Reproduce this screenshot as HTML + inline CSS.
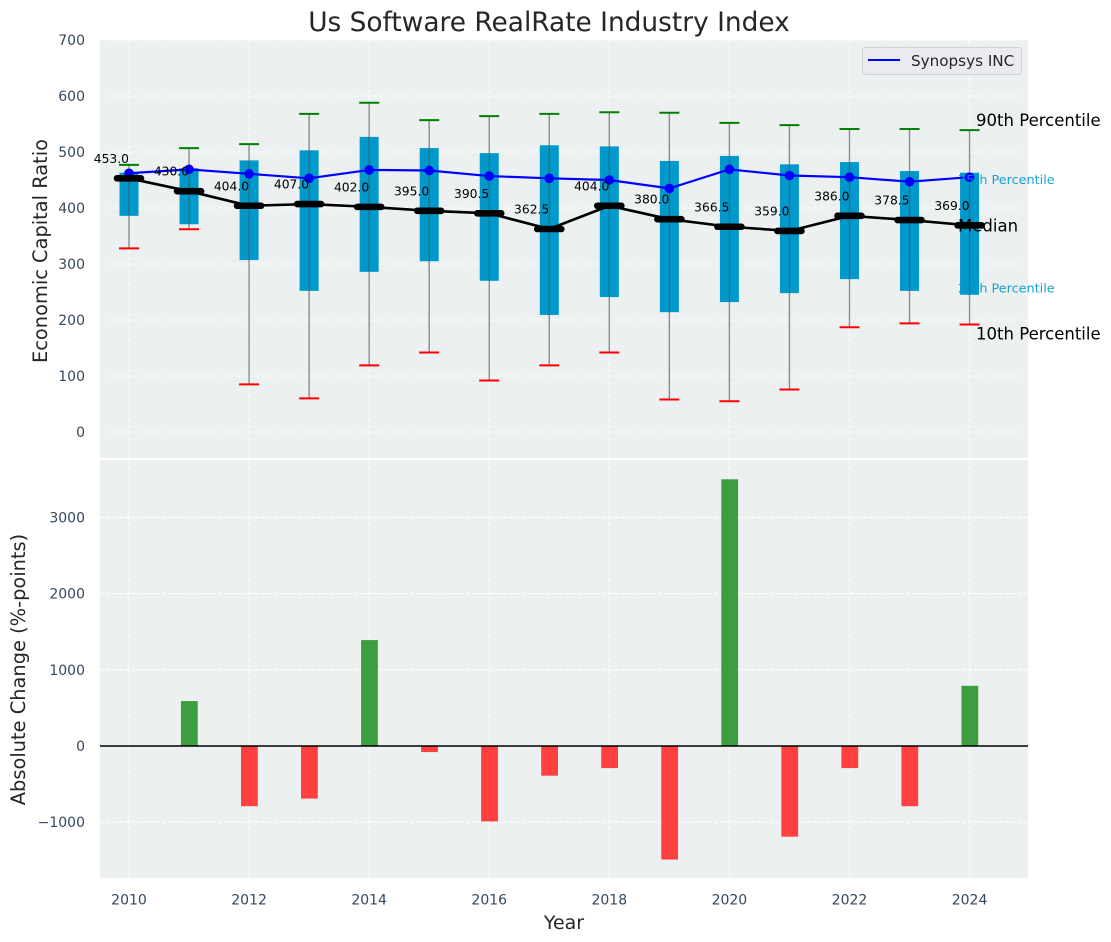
<!DOCTYPE html>
<html>
<head>
<meta charset="utf-8">
<title>Us Software RealRate Industry Index</title>
<style>
html,body{margin:0;padding:0;background:#fff;}
svg{display:block;font-family:"DejaVu Sans","Liberation Sans",sans-serif;}
</style>
</head>
<body>
<svg id="chart" width="1111" height="942" viewBox="0 0 1111 942" xmlns="http://www.w3.org/2000/svg">
  <rect x="100" y="40" width="928" height="418" fill="#ecf0f1"/>
  <rect x="100" y="460" width="928" height="418" fill="#ecf0f1"/>
  <g id="grid"></g>
  <g id="ticks"></g>
  <g id="marks-bottom"></g>
  <g id="marks-top"></g>
  <text x="549" y="31" text-anchor="middle" font-size="26.4" fill="#262626">Us Software RealRate Industry Index</text>
  <text transform="translate(47,251) rotate(-90)" text-anchor="middle" font-size="19.4" fill="#262626">Economic Capital Ratio</text>
  <text transform="translate(25,669.5) rotate(-90)" text-anchor="middle" font-size="19.4" fill="#262626">Absolute Change (%-points)</text>
  <text x="564" y="929" text-anchor="middle" font-size="19" fill="#262626">Year</text>
  <g>
    <rect x="862.5" y="47.5" width="159" height="27" rx="3" fill="#e9ebf0" stroke="#d0d2d6" stroke-width="1"/>
    <line x1="868" y1="60" x2="900" y2="60" stroke="#0000ff" stroke-width="2"/>
    <text x="911" y="66" font-size="15.2" fill="#262626">Synopsys INC</text>
  </g>
</svg>
<script>
const years = [2010,2011,2012,2013,2014,2015,2016,2017,2018,2019,2020,2021,2022,2023,2024];
const p90 = [477,507,514,568,588,557,564,568,571,570,552,548,541,541,539];
const p75 = [463,471,485,503,527,507,498,512,510,484,493,478,482,466,463];
const median = [453,430,404,407,402,395,390.5,362.5,404,380,366.5,359,386,378.5,369];
const p25 = [386,371,307,252,286,305,270,209,241,214,232,248,273,252,245];
const p10 = [328,362,85,60,119,142,92,119,142,58,55,76,187,194,192];
const synopsys = [462,469,461,453,468,467,457,453,450,435,469,458,455,447,455];
const changeYears = [2011,2012,2013,2014,2015,2016,2017,2018,2019,2020,2021,2022,2023,2024];
const changes = [590,-790,-690,1390,-80,-990,-390,-290,-1490,3500,-1190,-290,-790,790];
const xTicks = [2010,2012,2014,2016,2018,2020,2022,2024];
const yTicksTop = [0,100,200,300,400,500,600,700];
const yTicksBottom = [-1000,0,1000,2000,3000];

const NS = 'http://www.w3.org/2000/svg';
const x = v => 129 + (v - 2010) * 60.04;
const yTop = v => 432 - v * 0.56;
const yBot = v => 746 - v * 0.0762;
const fmt = v => v.toFixed(1);
const gridG = document.getElementById('grid');
const tickG = document.getElementById('ticks');
const topG = document.getElementById('marks-top');
const botG = document.getElementById('marks-bottom');

function mk(parent, tag, attrs, text) {
  const el = document.createElementNS(NS, tag);
  for (const k in attrs) el.setAttribute(k, attrs[k]);
  if (text !== undefined) el.textContent = text;
  parent.appendChild(el);
  return el;
}
const gridStyle = {stroke:'#ffffff','stroke-width':1.1,'stroke-dasharray':'4.2 2','stroke-opacity':0.95};
const tickColor = '#34495e';

xTicks.forEach(t => {
  [[40,458],[460,878]].forEach(r => {
    const g = mk(gridG,'line',Object.assign({x1:x(t),x2:x(t),y1:r[0],y2:r[1]},gridStyle));
    
    
  });
  const l = mk(tickG,'text',{x:x(t),y:904.5,'text-anchor':'middle','font-size':14,fill:tickColor},String(t));
  
  
});
yTicksTop.forEach(t => {
  const g = mk(gridG,'line',Object.assign({x1:100,x2:1028,y1:yTop(t),y2:yTop(t)},gridStyle));
  
  
  const l = mk(tickG,'text',{x:85,y:yTop(t)+5,'text-anchor':'end','font-size':14,fill:tickColor},String(t));
  
  
});
yTicksBottom.forEach(t => {
  const g = mk(gridG,'line',Object.assign({x1:100,x2:1028,y1:yBot(t),y2:yBot(t)},gridStyle));
  
  
  const label = (t < 0 ? '\u2212' : '') + Math.abs(t);
  const l = mk(tickG,'text',{x:85,y:yBot(t)+5,'text-anchor':'end','font-size':14,fill:tickColor},label);
  
  
});

/* change bars */
changes.forEach((v,i) => {
  const cx = x(changeYears[i]);
  const y0 = yBot(0), y1 = yBot(v);
  const b = mk(botG,'rect',{x:cx-8.1,y:Math.min(y0,y1),width:16.8,height:Math.abs(y1-y0),fill:v>=0?'#3c9e3f':'#ff4040'});
  
  
});
const zero = mk(botG,'line',{x1:100,x2:1028,y1:yBot(0),y2:yBot(0),stroke:'#000','stroke-width':1.6});



/* boxes, whiskers, caps */
years.forEach((yr,i) => {
  const cx = x(yr);
  const box = mk(topG,'rect',{x:cx-9.5,y:yTop(p75[i]),width:19,height:yTop(p25[i])-yTop(p75[i]),fill:'#0099cc'});
  
  
  const w = mk(topG,'line',{x1:cx,x2:cx,y1:yTop(p90[i]),y2:yTop(p10[i]),stroke:'#555','stroke-opacity':0.65,'stroke-width':1.4});
  
  
  const hi = mk(topG,'line',{x1:cx-10,x2:cx+10,y1:yTop(p90[i]),y2:yTop(p90[i]),stroke:'#008000','stroke-width':2});
  
  
  const lo = mk(topG,'line',{x1:cx-10,x2:cx+10,y1:yTop(p10[i]),y2:yTop(p10[i]),stroke:'#ff0000','stroke-width':2});
  
  
});

/* synopsys line */
const synLine = mk(topG,'polyline',{points:years.map((yr,i)=>x(yr)+','+yTop(synopsys[i])).join(' '),fill:'none',stroke:'#0000ff','stroke-width':2.2});


years.forEach((yr,i) => {
  const p = mk(topG,'circle',{cx:x(yr),cy:yTop(synopsys[i]),r:4.8,fill:'#0000ff'});
  
  
});

/* percentile annotations attached to the last year */
const last = years.length - 1;
const lx = x(years[last]);
const a90 = mk(topG,'text',{x:lx+6.5,y:yTop(p90[last])-4,'font-size':16.5,fill:'#000'},'90th Percentile');


const a75 = mk(topG,'text',{x:lx-11.5,y:yTop(p75[last])+11.5,'font-size':12.8,fill:'#0099cc','fill-opacity':0.9},'75th Percentile');


const a50 = mk(topG,'text',{x:lx-11.5,y:yTop(median[last])+6,'font-size':16.5,fill:'#000'},'Median');


const a25 = mk(topG,'text',{x:lx-11.5,y:yTop(p25[last])-2.5,'font-size':12.8,fill:'#0099cc','fill-opacity':0.9},'25th Percentile');


const a10 = mk(topG,'text',{x:lx+6.5,y:yTop(p10[last])+15,'font-size':16.5,fill:'#000'},'10th Percentile');



/* median line */
const medLine = mk(topG,'polyline',{points:years.map((yr,i)=>x(yr)+','+yTop(median[i])).join(' '),fill:'none',stroke:'#000','stroke-width':2.6});


years.forEach((yr,i) => {
  const cx = x(yr), cy = yTop(median[i]);
  const m = mk(topG,'line',{x1:cx-12,x2:cx+12,y1:cy,y2:cy,stroke:'#000','stroke-width':6.6,'stroke-linecap':'round'});
  
  
  const t = mk(topG,'text',{x:cx,y:cy-15.5,'text-anchor':'end','font-size':12.3,fill:'#000'},fmt(median[i]));
  
  
});
</script>
</body>
</html>
